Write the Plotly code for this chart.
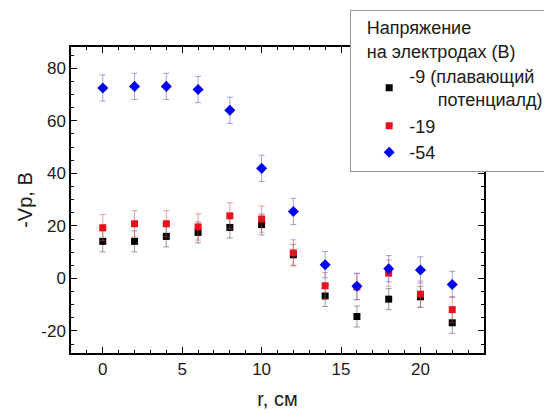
import plotly.graph_objects as go

r = [0, 2, 4, 6, 8, 10, 12, 14, 16, 18, 20, 22]

v_9 = [14.1, 14.1, 16.0, 17.5, 19.4, 20.5, 9.0, -6.7, -14.5, -7.9, -7.0, -16.9]
e_9 = [4, 4, 4, 4, 4, 4, 4, 4, 4, 4, 4, 4]

v_19 = [19.3, 20.8, 20.8, 19.6, 23.8, 22.6, 9.7, -2.8, -3.2, 2.0, -6.0, -11.9]
e_19 = [5, 5, 5, 5, 5, 5, 5, 5, 5, 5, 5, 5]

v_54 = [72.5, 73.1, 73.1, 71.9, 64.0, 41.9, 25.5, 5.2, -3.0, 3.7, 3.2, -2.3]
e_54 = [5, 5, 5, 5, 5, 5, 5, 5, 5, 5, 5, 5]

names = ["-9 (плавающий<br>&nbsp;&nbsp;&nbsp;&nbsp;&nbsp;\u2009потенциалд)", "-19", "-54"]
legend_title = "&nbsp;&nbsp;\u2009Напряжение<br>&nbsp;&nbsp;\u2009на электродах (В)"

x_ticks = [0, 5, 10, 15, 20]
x_ticktext = ["0", "5", "10", "15", "20"]
y_ticks = [-20, 0, 20, 40, 60, 80]
y_ticktext = ["-20", "0", "20", "40", "60", "80"]

FONT = "Liberation Sans, Arial, sans-serif"

fig = go.Figure()
series = [
    (v_9, e_9, names[0], "#000000", "rgba(90,90,90,0.6)", "square", 7),
    (v_19, e_19, names[1], "#e8101a", "rgba(220,80,80,0.55)", "square", 7),
    (v_54, e_54, names[2], "#0000f0", "rgba(90,90,200,0.55)", "diamond", 8.5),
]
for vals, errs, name, col, ecol, sym, sz in series:
    fig.add_trace(go.Scatter(
        x=r, y=vals, mode="markers", name=name,
        marker=dict(symbol=sym, size=sz, color=col, line=dict(width=0)),
        error_y=dict(type="data", array=errs, visible=True, color=ecol,
                     thickness=1, width=3),
    ))

axis_common = dict(
    showline=True, linecolor="black", linewidth=1.5, mirror="allticks",
    ticks="inside", ticklen=6, tickwidth=1.2, tickcolor="black",
    showgrid=False, zeroline=False,
    tickfont=dict(family=FONT, size=17, color="#1a1a1a"),
)

fig.update_xaxes(
    range=[-2, 24], tickvals=x_ticks, ticktext=x_ticktext,
    minor=dict(dtick=1, tick0=0, ticks="inside", ticklen=3, tickcolor="black", showgrid=False),
    title=dict(text="r, см", font=dict(family=FONT, size=20, color="#1a1a1a"), standoff=14),
    **axis_common,
)
fig.update_yaxes(
    range=[-28.4, 88.1], tickvals=y_ticks, ticktext=y_ticktext,
    minor=dict(dtick=5, tick0=0, ticks="inside", ticklen=3, tickcolor="black", showgrid=False),
    title=dict(text="-Vp, B", font=dict(family=FONT, size=20, color="#1a1a1a"), standoff=3),
    **axis_common,
)

fig.update_layout(
    width=552, height=414,
    margin=dict(l=63, r=76, t=39, b=69, autoexpand=False),
    paper_bgcolor="white", plot_bgcolor="white",
    font=dict(family=FONT, size=17, color="#1a1a1a"),
    showlegend=True,
    legend=dict(
        xref="paper", yref="paper", x=0.676, y=1.121,
        xanchor="left", yanchor="top",
        title=dict(text=legend_title, font=dict(family=FONT, size=18)),
        font=dict(family=FONT, size=18),
        indentation=18,
        bgcolor="white", bordercolor="#999", borderwidth=1,
    ),
)

fig.write_html("out.html")
